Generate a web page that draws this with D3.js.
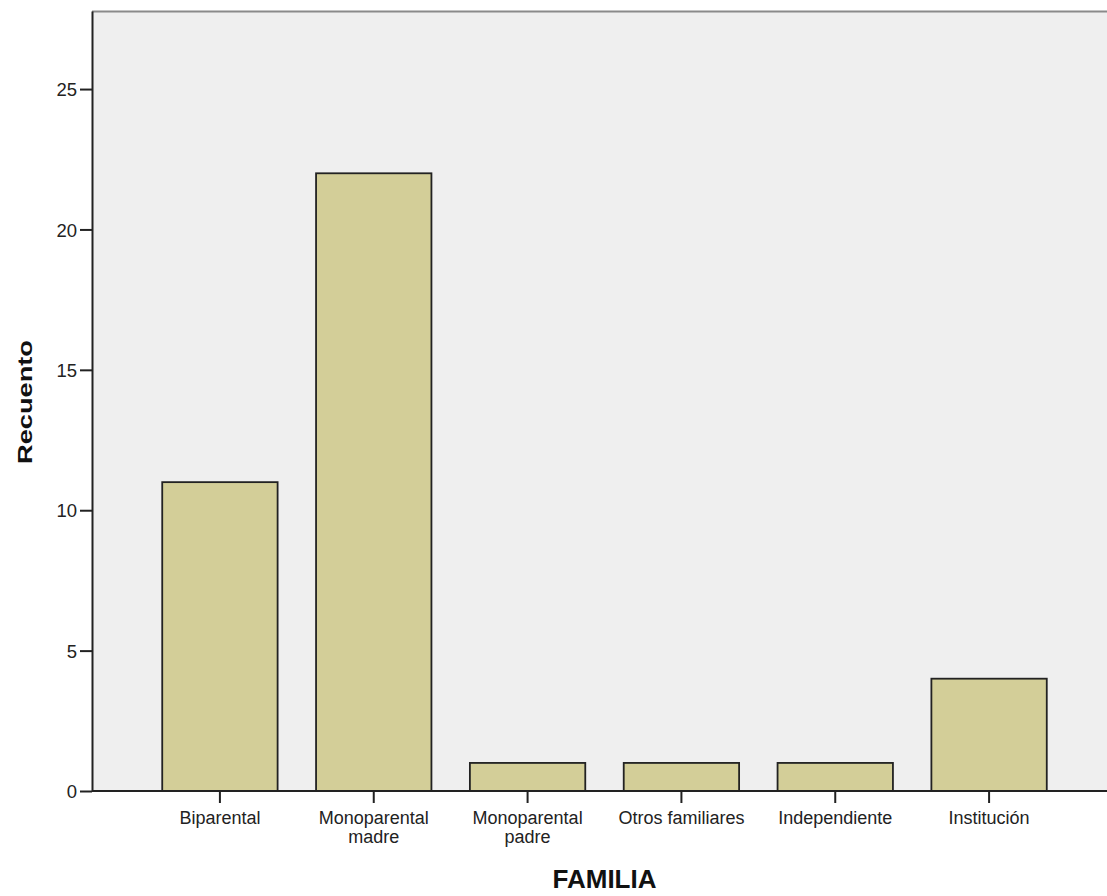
<!DOCTYPE html>
<html>
<head>
<meta charset="utf-8">
<script src="https://cdn.jsdelivr.net/npm/d3@7"></script>
<style>
  html, body { margin: 0; padding: 0; background: #ffffff; }
  svg { display: block; font-family: "Liberation Sans", Arial, sans-serif; }
</style>
</head>
<body>
<svg id="chart" width="1107" height="896"></svg>
<script>
// ---- data ----
const categories = ["Biparental", "Monoparental madre", "Monoparental padre", "Otros familiares", "Independiente", "Institución"];
const categoryLines = [["Biparental"], ["Monoparental", "madre"], ["Monoparental", "padre"], ["Otros familiares"], ["Independiente"], ["Institución"]];
const counts = [11, 22, 1, 1, 1, 4];
const yTicks = [0, 5, 10, 15, 20, 25];
const yMax = 27.78;
const xTitle = "FAMILIA";
const yTitle = "Recuento";

// ---- layout ----
const W = 1107, H = 896;
const plot = { left: 92, right: 1107, top: 11, bottom: 791 };
const bandRange = [143, 1066];

const svg = d3.select("#chart");

const x = d3.scaleBand().domain(categories).range(bandRange).paddingInner(0.25).paddingOuter(0.125);
const y = d3.scaleLinear().domain([0, yMax]).range([plot.bottom, plot.top]);

// plot background
svg.append("rect")
  .attr("x", plot.left).attr("y", plot.top)
  .attr("width", plot.right - plot.left).attr("height", plot.bottom - plot.top)
  .attr("fill", "#efefef");

// top frame line
svg.append("line")
  .attr("x1", plot.left).attr("x2", plot.right)
  .attr("y1", plot.top + 0.5).attr("y2", plot.top + 0.5)
  .attr("stroke", "#8a8a8a").attr("stroke-width", 2);

// bars
svg.append("g").selectAll("rect")
  .data(categories)
  .join("rect")
  .attr("x", d => x(d))
  .attr("y", (d, i) => y(counts[i]))
  .attr("width", x.bandwidth())
  .attr("height", (d, i) => y(0) - y(counts[i]))
  .attr("fill", "#d3ce98")
  .attr("stroke", "#222")
  .attr("stroke-width", 1.8);

// y axis
const yAxis = svg.append("g")
  .attr("transform", `translate(${plot.left},0)`)
  .call(d3.axisLeft(y).tickValues(yTicks).tickSize(12).tickSizeOuter(0).tickPadding(3).tickFormat(d3.format("d")));
yAxis.select(".domain").attr("stroke", "#222").attr("stroke-width", 2);
yAxis.selectAll(".tick line").attr("stroke", "#222").attr("stroke-width", 2);
yAxis.selectAll(".tick text")
  .attr("fill", "#222")
  .style("font-size", "18.5px")
  .attr("dy", "0.36em");

// x axis
const xAxis = svg.append("g")
  .attr("transform", `translate(0,${plot.bottom})`)
  .call(d3.axisBottom(x).tickSize(12).tickSizeOuter(0).tickPadding(4).tickFormat(() => ""));
xAxis.select(".domain").remove();
xAxis.selectAll(".tick line").attr("stroke", "#222").attr("stroke-width", 2);

svg.append("line")
  .attr("x1", plot.left).attr("x2", plot.right)
  .attr("y1", plot.bottom).attr("y2", plot.bottom)
  .attr("stroke", "#222").attr("stroke-width", 2);

xAxis.selectAll(".tick text").each(function(d) {
  const i = categories.indexOf(d);
  const t = d3.select(this)
    .attr("fill", "#222")
    .style("font-size", "18px")
    .attr("y", 33)
    .attr("dy", null);
  categoryLines[i].forEach((line, k) => {
    t.append("tspan").attr("x", 0).attr("y", 33 + k * 18.5).text(line);
  });
});

// axis titles
svg.append("text")
  .attr("x", (bandRange[0] + bandRange[1]) / 2)
  .attr("y", 888)
  .attr("text-anchor", "middle")
  .attr("font-weight", "bold")
  .attr("fill", "#111")
  .style("font-size", "26px")
  .text(xTitle);

svg.append("text")
  .attr("transform", `translate(31.5,402) rotate(-90)`)
  .attr("text-anchor", "middle")
  .attr("font-weight", "bold")
  .attr("fill", "#111")
  .style("font-size", "19.5px")
  .attr("textLength", 124)
  .attr("lengthAdjust", "spacingAndGlyphs")
  .text(yTitle);
</script>
</body>
</html>
